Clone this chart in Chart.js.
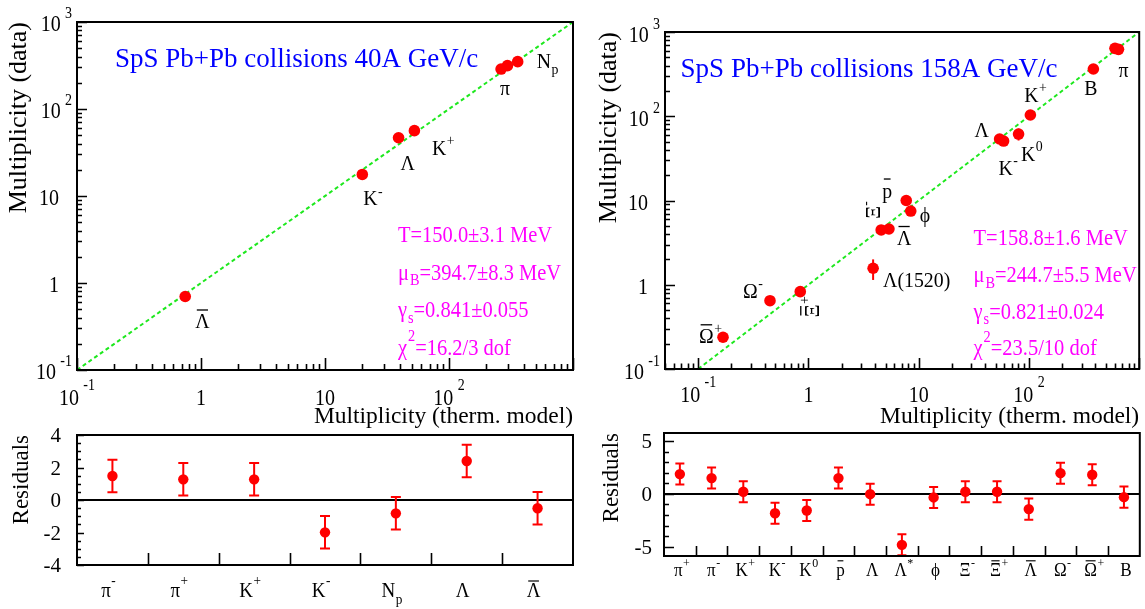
<!DOCTYPE html>
<html>
<head>
<meta charset="utf-8">
<script src="https://cdn.jsdelivr.net/npm/chart.js@4.4.1/dist/chart.umd.min.js"></script>
<style>
  html, body { margin: 0; padding: 0; background: #ffffff; }
  #wrap { position: relative; width: 1145px; height: 609px; overflow: hidden; }
  canvas { position: absolute; }
</style>
</head>
<body>
<div id="wrap">
  <canvas id="fit40" width="580" height="430" style="left:0px;top:0px"></canvas>
  <canvas id="fit158" width="565" height="430" style="left:580px;top:0px"></canvas>
  <canvas id="res40" width="580" height="184" style="left:0px;top:425px"></canvas>
  <canvas id="res158" width="565" height="184" style="left:580px;top:425px"></canvas>
</div>
<script>
// ---------- 40A GeV/c ----------
const particles40 = ['π^{-}', 'π^{+}', 'K^{+}', 'K^{-}', 'N_{p}', 'Λ', '#bar{Λ}'];
const pointLabels40 = ['', 'π', 'K^{+}', 'K^{-}', 'N_{p}', 'Λ', '#bar{Λ}'];
const model40 = [296, 263, 52.6, 20.0, 358, 39.2, 0.746];
const measured40 = [315, 288, 56.4, 17.7, 350, 46.7, 0.70];
const measuredErr40 = [0, 0, 0, 0, 0, 0, 0];
const residuals40 = [1.48, 1.27, 1.27, -1.99, -0.82, 2.40, -0.51];
const residualErr40 = [1, 1, 1, 1, 1, 1, 1];
const fitText40 = ['T=150.0±3.1 MeV', 'μ_{B}=394.7±8.3 MeV', 'γ_{s}=0.841±0.055', 'χ^{2}=16.2/3 dof'];
const title40 = 'SpS Pb+Pb collisions 40A GeV/c';

// ---------- 158A GeV/c ----------
const particles158 = ['π^{+}', 'π^{-}', 'K^{+}', 'K^{-}', 'K^{0}', '#bar{p}', 'Λ', 'Λ^{*}', 'ϕ', 'Ξ^{-}', '#bar{Ξ}^{+}', '#bar{Λ}', 'Ω^{-}', '#bar{Ω}^{+}', 'B'];
const pointLabels158 = ['', 'π', 'K^{+}', 'K^{-}', 'K^{0}', '#bar{p}', 'Λ', 'Λ(1520)', 'ϕ', 'Ξ^{-}', '#bar{Ξ}^{+}', '#bar{Λ}', 'Ω^{-}', '#bar{Ω}^{+}', 'B'];
const model158 = [603, 649, 103, 58.9, 80.5, 7.71, 54.2, 3.86, 8.47, 4.57, 0.843, 5.37, 0.448, 0.168, 384];
const measured158 = [640, 622, 103.5, 50.8, 61.5, 10.0, 53.7, 1.57, 7.5, 4.47, 0.828, 4.59, 0.647, 0.238, 364];
const measuredErr158 = [0, 0, 0, 0, 10, 0, 0, 0.43, 0.6, 0, 0, 0, 0, 0, 0];
const residuals158 = [1.89, 1.51, 0.21, -1.83, -1.57, 1.51, -0.02, -4.84, -0.33, 0.21, 0.21, -1.44, 1.98, 1.83, -0.30];
const residualErr158 = [1, 1, 1, 1, 1, 1, 1, 1, 1, 1, 1, 1, 1, 1, 1];
const fitText158 = ['T=158.8±1.6 MeV', 'μ_{B}=244.7±5.5 MeV', 'γ_{s}=0.821±0.024', 'χ^{2}=23.5/10 dof'];
const title158 = 'SpS Pb+Pb collisions 158A GeV/c';

// ---------- axes ----------
const diagonal = [0.1, 1000];
const yDecadeTicks = [0.1, 1, 10, 100, 1000];
const yDecadeLabels = ['10^{-1}', '1', '10', '10^{2}', '10^{3}'];
const xDecadeTicks = [0.1, 1, 10, 100];
const xDecadeLabels = ['10^{-1}', '1', '10', '10^{2}'];
const resTicks40 = [-4, -2, 0, 2, 4];
const resLabels40 = ['-4', '-2', '0', '2', '4'];
const resTicks158 = [-5, 0, 5];
const resLabels158 = ['-5', '0', '5'];
const xTitle = 'Multiplicity (therm. model)';
const yTitle = 'Multiplicity (data)';
const resTitle = 'Residuals';

const SERIF = '"Liberation Serif", "Times New Roman", serif';
const RED = '#ff0000';
const GREEN = '#1ee81e';
const BLUE = '#0000ff';
const MAGENTA = '#ff00ff';

// Small TLatex-like markup: ^{..} superscript, _{..} subscript, #bar{..} overline
function parseRich(s) {
  const segs = [];
  let buf = '';
  let i = 0;
  const flush = () => { if (buf) { segs.push({ t: buf, m: 0, bar: false }); buf = ''; } };
  while (i < s.length) {
    if (s.startsWith('#bar{', i)) {
      flush();
      const j = s.indexOf('}', i);
      segs.push({ t: s.slice(i + 5, j), m: 0, bar: true });
      i = j + 1;
    } else if ((s[i] === '^' || s[i] === '_') && s[i + 1] === '{') {
      flush();
      const j = s.indexOf('}', i);
      segs.push({ t: s.slice(i + 2, j), m: s[i] === '^' ? 1 : 2, bar: false });
      i = j + 1;
    } else {
      buf += s[i];
      i++;
    }
  }
  flush();
  return segs;
}

// draws markup text in the current transform; returns its drawn width
function richText(ctx, str, x, y, o) {
  const size = o.size;
  const sx = o.sx ?? 1;
  const small = size * (o.small ?? 0.7);
  const segs = parseRich(str);
  ctx.save();
  ctx.fillStyle = o.color || '#000';
  ctx.strokeStyle = o.color || '#000';
  ctx.textBaseline = 'alphabetic';
  ctx.textAlign = 'left';
  let w = 0;
  const lay = [];
  for (const sg of segs) {
    const fs = sg.m ? small : size;
    ctx.font = fs + 'px ' + SERIF;
    const gap = sg.m ? (o.supGap ?? 1) : 0;
    const tw = ctx.measureText(sg.t).width;
    lay.push({ sg, fs, x: w + gap, tw });
    w += gap + tw;
  }
  const W = w * sx;
  let x0 = x;
  if (o.align === 'center') x0 = x - W / 2;
  else if (o.align === 'right') x0 = x - W;
  ctx.translate(x0, y);
  ctx.scale(sx, 1);
  for (const l of lay) {
    ctx.font = l.fs + 'px ' + SERIF;
    const dy = l.sg.m === 1 ? -size * (o.supRaise ?? 0.45) : l.sg.m === 2 ? size * (o.subDrop ?? 0.28) : 0;
    ctx.fillText(l.sg.t, l.x, dy);
    if (l.sg.bar) {
      const by = dy - size * (o.barHeight ?? 0.84);
      ctx.lineWidth = Math.max(1, size * 0.06);
      ctx.beginPath();
      ctx.moveTo(l.x + size * 0.08, by);
      ctx.lineTo(l.x + l.tw - size * 0.08, by);
      ctx.stroke();
    }
  }
  ctx.restore();
  return W;
}

// vertical text reading upwards, its end placed at (x, yEnd)
function verticalText(ctx, str, x, yEnd, o) {
  ctx.save();
  ctx.translate(x, yEnd);
  ctx.rotate(-Math.PI / 2);
  richText(ctx, str, 0, 0, Object.assign({}, o, { align: 'right' }));
  ctx.restore();
}

function logTicks(min, max) {
  const out = [];
  for (let d = Math.floor(Math.log10(min)); d <= Math.ceil(Math.log10(max)); d++) {
    for (let k = 1; k <= 9; k++) {
      const v = k * Math.pow(10, d);
      if (v >= min * 0.999 && v <= max * 1.001) out.push({ v, major: k === 1 });
    }
  }
  return out;
}

// error bars for the first dataset (drawn behind the markers)
const errorBarPlugin = {
  id: 'errorBars',
  beforeDatasetsDraw(chart) {
    const ds = chart.data.datasets[0];
    const errs = ds.errors;
    if (!errs) return;
    const st = chart.options.plugins.errorBars;
    const meta = chart.getDatasetMeta(0);
    const ys = chart.scales.y;
    const ctx = chart.ctx;
    ctx.save();
    ctx.strokeStyle = RED;
    ctx.lineWidth = 2;
    meta.data.forEach((pt, i) => {
      const e = errs[i];
      if (!e) return;
      const v = ds.data[i].y;
      const lo = ys.getPixelForValue(Math.max(v - e, ys.min));
      const hi = ys.getPixelForValue(v + e);
      ctx.beginPath();
      ctx.moveTo(pt.x, lo);
      ctx.lineTo(pt.x, hi);
      if (st.cap) {
        ctx.moveTo(pt.x - st.cap, lo); ctx.lineTo(pt.x + st.cap, lo);
        ctx.moveTo(pt.x - st.cap, hi); ctx.lineTo(pt.x + st.cap, hi);
      }
      ctx.stroke();
    });
    ctx.restore();
  }
};

// frame, inward ticks, labels and annotations of the log-log panels
const logFramePlugin = {
  id: 'logFrame',
  afterDraw(chart) {
    const st = chart.options.plugins.logFrame;
    const { ctx, chartArea: a } = chart;
    const xs = chart.scales.x, ys = chart.scales.y;
    ctx.save();
    ctx.strokeStyle = '#000';
    ctx.lineWidth = 1.6;
    ctx.beginPath();
    logTicks(ys.min, ys.max).forEach(t => {
      const p = Math.round(ys.getPixelForValue(t.v)) + 0.5;
      ctx.moveTo(a.left, p);
      ctx.lineTo(a.left + (t.major ? st.yMajor : st.yMinor), p);
    });
    logTicks(xs.min, xs.max).forEach(t => {
      const p = Math.round(xs.getPixelForValue(t.v)) + 0.5;
      ctx.moveTo(p, a.bottom);
      ctx.lineTo(p, a.bottom - (t.major ? st.xMajor : st.xMinor));
    });
    ctx.stroke();
    ctx.lineWidth = 2;
    ctx.strokeRect(a.left, a.top, a.right - a.left, a.bottom - a.top);
    ctx.restore();

    const tick = { size: 23, sx: 0.87, supGap: 5 };
    yDecadeTicks.forEach((v, i) => {
      const s = yDecadeLabels[i];
      const p = ys.getPixelForValue(v);
      const exp = s.includes('^');
      richText(ctx, s, exp ? a.left - st.expGap : a.left - st.plainGap, p + st.yLabDy,
        Object.assign({ align: 'right', supRaise: 0.55 }, tick));
    });
    xDecadeTicks.forEach((v, i) => {
      const p = xs.getPixelForValue(v);
      richText(ctx, xDecadeLabels[i], p, a.bottom + st.xLabDy,
        Object.assign({ align: 'center', supRaise: 0.65 }, tick));
    });

    // axis titles
    richText(ctx, xTitle, a.right, st.xTitleY, { size: 23.5, align: 'right' });
    verticalText(ctx, yTitle, st.yTitleX, a.top, { size: 26 });

    // collision system
    richText(ctx, st.title, st.titleX, st.titleY, { size: 27, color: BLUE });

    // fit parameters
    st.fit.forEach((s, i) => {
      richText(ctx, s, st.fitX, st.fitY[i], { size: 22.5, sx: 0.91, color: MAGENTA, supRaise: 0.6, subDrop: 0.25, supGap: 1 });
    });

    // particle labels next to the points
    const meta = chart.getDatasetMeta(0);
    st.labels.forEach((s, i) => {
      if (!s) return;
      const pt = meta.data[i];
      const off = st.labelOffsets[i];
      const o = { size: 22, sx: 0.9, supRaise: 0.45, subDrop: 0.28, supGap: 0.5 };
      if (off.rot) {
        ctx.save();
        ctx.translate(pt.x + off.dx, pt.y + off.dy);
        ctx.rotate(-Math.PI / 2);
        richText(ctx, s, 0, 7, Object.assign({ align: 'center' }, o));
        ctx.restore();
      } else {
        richText(ctx, s, pt.x + off.dx, pt.y + off.dy, o);
      }
    });
  }
};

// frame, ticks, zero line and category labels of the residual panels
const resFramePlugin = {
  id: 'resFrame',
  beforeDatasetsDraw(chart) {
    const { ctx, chartArea: a } = chart;
    const ys = chart.scales.y;
    const p0 = ys.getPixelForValue(0);
    ctx.save();
    ctx.strokeStyle = '#000';
    ctx.lineWidth = 2;
    ctx.beginPath();
    ctx.moveTo(a.left, p0);
    ctx.lineTo(a.right, p0);
    ctx.stroke();
    ctx.restore();
  },
  afterDraw(chart) {
    const st = chart.options.plugins.resFrame;
    const { ctx, chartArea: a } = chart;
    const xs = chart.scales.x, ys = chart.scales.y;
    ctx.save();
    ctx.strokeStyle = '#000';
    ctx.lineWidth = 1.6;
    ctx.beginPath();
    const n0 = Math.ceil(ys.min / st.minorStep), n1 = Math.floor(ys.max / st.minorStep);
    for (let k = n0; k <= n1; k++) {
      const v = k * st.minorStep;
      const major = Math.abs(v / st.majorStep - Math.round(v / st.majorStep)) < 1e-6;
      const p = Math.round(ys.getPixelForValue(v)) + 0.5;
      ctx.moveTo(a.left, p);
      ctx.lineTo(a.left + (major ? st.yMajor : st.yMinor), p);
    }
    for (let i = 0; i < st.cats.length - 1; i++) {
      const p = Math.round(xs.getPixelForValue(i + 0.5)) + 0.5;
      ctx.moveTo(p, a.bottom);
      ctx.lineTo(p, a.bottom - st.xTick);
    }
    ctx.stroke();
    ctx.lineWidth = 2;
    ctx.strokeRect(a.left, a.top, a.right - a.left, a.bottom - a.top);
    ctx.restore();

    st.ticks.forEach((v, i) => {
      richText(ctx, st.tickLabels[i], a.left - st.labGap, ys.getPixelForValue(v) + st.yLabDy,
        { size: 21, align: 'right' });
    });
    st.cats.forEach((s, i) => {
      richText(ctx, s, xs.getPixelForValue(i) + st.catDx, a.bottom + st.catDy,
        { size: st.catSize, sx: st.catSx, align: 'center', supRaise: st.catSup, subDrop: 0.35, supGap: 0.5, barHeight: 0.8 });
    });
    verticalText(ctx, resTitle, st.titleX, a.top, { size: 23 });
  }
};

function fitChart(id, model, measured, errs, pad, xMin, frame) {
  return new Chart(document.getElementById(id), {
    type: 'scatter',
    data: {
      datasets: [
        {
          label: 'multiplicity',
          data: model.map((m, i) => ({ x: m, y: measured[i] })),
          errors: errs,
          backgroundColor: RED,
          borderColor: RED,
          borderWidth: 0,
          pointRadius: 5.8,
          pointHoverRadius: 5.8,
          order: 1
        },
        {
          label: 'data = model',
          data: diagonal.map(v => ({ x: v, y: v })),
          showLine: true,
          borderColor: GREEN,
          borderWidth: 2,
          borderDash: [4, 3],
          pointRadius: 0,
          fill: false,
          order: 2
        }
      ]
    },
    options: {
      responsive: false,
      animation: false,
      devicePixelRatio: 1,
      events: [],
      layout: { padding: pad },
      scales: {
        x: { type: 'logarithmic', min: xMin, max: 1000, display: false },
        y: { type: 'logarithmic', min: 0.1, max: 1000, display: false }
      },
      plugins: {
        legend: { display: false },
        tooltip: { enabled: false },
        errorBars: { cap: 0 },
        logFrame: frame
      }
    },
    plugins: [errorBarPlugin, logFramePlugin]
  });
}

function residualChart(id, cats, res, errs, pad, yMin, yMax, frame, cap) {
  return new Chart(document.getElementById(id), {
    type: 'scatter',
    data: {
      datasets: [{
        label: 'residuals',
        data: res.map((r, i) => ({ x: i, y: r })),
        errors: errs,
        backgroundColor: RED,
        borderWidth: 0,
        pointRadius: 5.2,
        pointHoverRadius: 5.2
      }]
    },
    options: {
      responsive: false,
      animation: false,
      devicePixelRatio: 1,
      events: [],
      layout: { padding: pad },
      scales: {
        x: { type: 'linear', min: -0.5, max: cats.length - 0.5, display: false },
        y: { type: 'linear', min: yMin, max: yMax, display: false }
      },
      plugins: {
        legend: { display: false },
        tooltip: { enabled: false },
        errorBars: { cap: cap },
        resFrame: Object.assign({ cats: cats }, frame)
      }
    },
    plugins: [resFramePlugin, errorBarPlugin]
  });
}

fitChart('fit40', model40, measured40, measuredErr40,
  { left: 77, top: 22, right: 7, bottom: 60 }, 0.1,
  {
    yMajor: 10, yMinor: 5, xMajor: 12, xMinor: 6,
    expGap: 5, plainGap: 18, yLabDy: 9, xLabDy: 35,
    xTitleY: 423, yTitleX: 26,
    title: title40, titleX: 115, titleY: 67,
    fit: fitText40, fitX: 398, fitY: [242, 279.5, 317, 354.5],
    labels: pointLabels40,
    labelOffsets: [
      { dx: 0, dy: 0 }, { dx: -1, dy: 26 }, { dx: 17.5, dy: 24 }, { dx: 1, dy: 31 },
      { dx: 19, dy: 6 }, { dx: 2, dy: 32 }, { dx: 10, dy: 32 }
    ]
  });

fitChart('fit158', model158, measured158, measuredErr158,
  { left: 85, top: 32, right: 5, bottom: 61 }, 0.05,
  {
    yMajor: 10, yMinor: 5, xMajor: 11, xMinor: 5.5,
    expGap: 5, plainGap: 17, yLabDy: 9.5, xLabDy: 33,
    xTitleY: 423, yTitleX: 36,
    title: title158, titleX: 100.6, titleY: 77,
    fit: fitText158, fitX: 393.6, fitY: [245, 282, 318.5, 355],
    labels: pointLabels158,
    labelOffsets: [
      { dx: 0, dy: 0 }, { dx: 0, dy: 28 }, { dx: -6, dy: -13 }, { dx: -5, dy: 34 },
      { dx: 2.5, dy: 27 }, { dx: -24, dy: -3 }, { dx: -25, dy: -2 }, { dx: 10, dy: 19 },
      { dx: 9, dy: 11 }, { dx: -8.5, dy: -20, rot: true }, { dx: 12, dy: 15, rot: true },
      { dx: 8, dy: 16 }, { dx: -27, dy: -3 }, { dx: -24, dy: 6 }, { dx: -9, dy: 26 }
    ]
  });

residualChart('res40', particles40, residuals40, residualErr40,
  { left: 77, top: 10, right: 7, bottom: 44 }, -4, 4,
  {
    minorStep: 0.5, majorStep: 2, yMajor: 7, yMinor: 4, xTick: 12,
    ticks: resTicks40, tickLabels: resLabels40, labGap: 16, yLabDy: 7,
    catSize: 20, catSx: 0.95, catDx: -4, catDy: 32, catSup: 0.62, titleX: 28
  }, 5);

residualChart('res158', particles158, residuals158, residualErr158,
  { left: 84, top: 8, right: 4, bottom: 53 }, -5.9, 5.8,
  {
    minorStep: 1, majorStep: 5, yMajor: 10, yMinor: 5, xTick: 10,
    ticks: resTicks158, tickLabels: resLabels158, labGap: 12, yLabDy: 7,
    catSize: 19, catSx: 0.9, catDx: 2, catDy: 20, catSup: 0.48, titleX: 38
  }, 4.5);
</script>
</body>
</html>
